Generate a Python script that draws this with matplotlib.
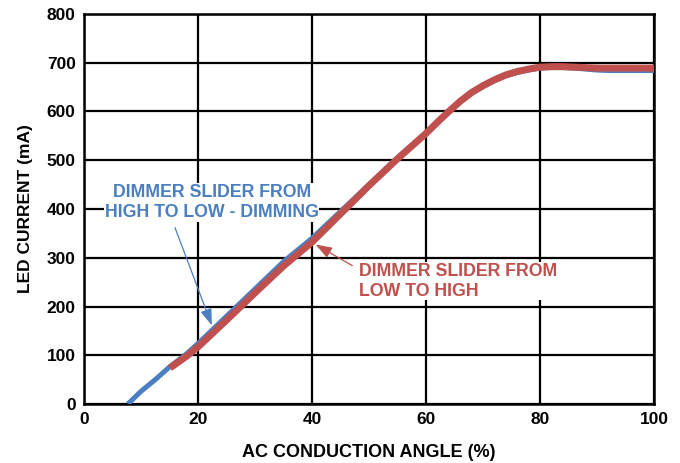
import matplotlib
matplotlib.use("Agg")
import matplotlib.pyplot as plt

plt.rcParams['font.family'] = ['Liberation Sans', 'DejaVu Sans']

# Data
x_blue = [7.7, 10, 12.5, 15, 18, 20, 25, 30, 35, 40, 45, 50, 55, 60, 62, 64, 66, 68, 70,
          72, 74, 76, 78, 80, 82, 84, 86, 88, 90, 92, 96, 100]
y_blue = [0, 26, 50, 76, 103, 124, 180, 236, 292, 340, 395, 450, 505, 556, 578, 599, 619, 637, 651,
          663, 673, 680, 685, 689, 690, 690, 689, 687, 685, 684, 684, 684]

x_red = [15.1, 18, 20, 25, 30, 35, 40, 45, 50, 55, 60, 62, 64, 66, 68, 70,
         72, 74, 76, 78, 80, 82, 84, 86, 88, 90, 92, 96, 100]
y_red = [74, 98, 117, 172, 228, 283, 332, 390, 448, 503, 555, 578, 600, 621, 639, 653,
         665, 675, 682, 687, 691, 692, 692, 691, 690, 689, 689, 689, 689]

x_ticks = [0, 20, 40, 60, 80, 100]
y_ticks = [0, 100, 200, 300, 400, 500, 600, 700, 800]

blue = '#4a7fc1'
red = '#c0504d'

fig = plt.figure(figsize=(6.8, 4.63), dpi=100)
ax = fig.add_axes([0.1235, 0.1274, 0.8383, 0.8424])

ax.plot(x_blue, y_blue, color=blue, lw=3.6, solid_capstyle='butt',
        solid_joinstyle='round', zorder=3)
ax.plot(x_red, y_red, color=red, lw=5.0, solid_capstyle='butt',
        solid_joinstyle='round', zorder=4)

ax.set_xlim(0, 100)
ax.set_ylim(0, 800)
ax.set_xticks(x_ticks)
ax.set_yticks(y_ticks)
ax.grid(True, color='black', lw=1.6)
ax.set_axisbelow(True)
for s in ax.spines.values():
    s.set_linewidth(1.8)
ax.tick_params(length=0, pad=6, labelsize=12.5)
for lab in ax.get_xticklabels() + ax.get_yticklabels():
    lab.set_fontweight('bold')

ax.set_xlabel('AC CONDUCTION ANGLE (%)', fontsize=13, fontweight='bold', labelpad=12)
ax.set_ylabel('LED CURRENT (mA)', fontsize=12.5, fontweight='bold', labelpad=10)

ax.text(22.4, 413, 'DIMMER SLIDER FROM\nHIGH TO LOW - DIMMING', color=blue,
        fontsize=12.8, fontweight='bold', ha='center', va='center', linespacing=1.25,
        bbox=dict(facecolor='white', edgecolor='none', pad=0.5), zorder=5)
ax.annotate('', xy=(22.6, 156), xytext=(15.8, 367),
            arrowprops=dict(arrowstyle='-|>,head_length=1.0,head_width=0.35', color=blue, lw=0.9),
            zorder=5)

ax.text(48.2, 252, 'DIMMER SLIDER FROM\nLOW TO HIGH', color=red,
        fontsize=12.8, fontweight='bold', ha='left', va='center', linespacing=1.25,
        bbox=dict(facecolor='white', edgecolor='none', pad=0.5), zorder=5)
ax.annotate('', xy=(40.2, 330), xytext=(47.5, 281),
            arrowprops=dict(arrowstyle='-|>,head_length=1.0,head_width=0.35', color=red, lw=0.9),
            zorder=5)

fig.savefig('out.png', dpi=100)
